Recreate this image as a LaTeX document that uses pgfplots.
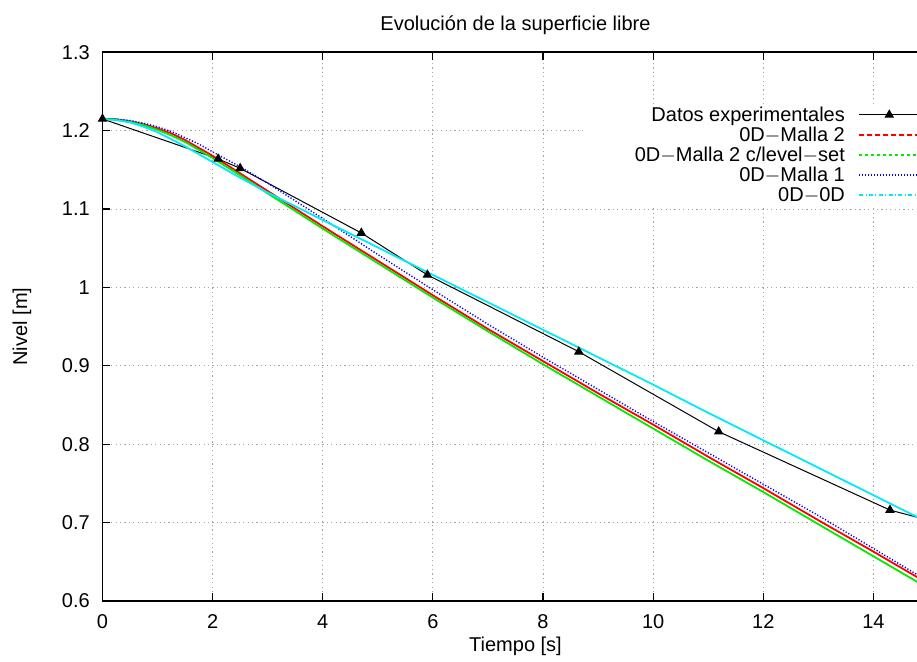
\documentclass[border=0pt]{standalone}
\usepackage{fontspec}
\setmainfont{Liberation Sans}
\usepackage{pgfplots}
\pgfplotsset{compat=1.18}
\usepackage{pgfplotstable}

\definecolor{gred}{RGB}{255,0,0}
\definecolor{ggreen}{RGB}{0,235,0}
\definecolor{gblue}{RGB}{0,0,255}
\definecolor{gcyan}{RGB}{0,235,245}

\pgfplotsset{
  legexp/.style={legend image code/.code={\draw[black, line width=0.5pt] (0pt,1.3pt) -- (30pt,1.3pt);
    \fill[black] (15pt,1.3pt) ++(90:2.3pt) -- ++(-120:3.98pt) -- ++(0:3.98pt) -- cycle;}},
  legred/.style={legend image code/.code={\draw[##1, draw=gred, solid, line width=0.8pt, dash pattern=on 2.5pt off 1.5pt] (0pt,1.3pt) -- (30pt,1.3pt);}},
  leggreen/.style={legend image code/.code={\draw[##1, draw=ggreen, solid, line width=0.8pt, dash pattern=on 1.5pt off 1.5pt] (0pt,1.3pt) -- (30pt,1.3pt);}},
  legblue/.style={legend image code/.code={\draw[##1, draw=gblue, line width=0.8pt, dash pattern=on 0.6pt off 0.9pt] (0pt,1.3pt) -- (30pt,1.3pt);}},
  legcyan/.style={legend image code/.code={\draw[##1, draw=gcyan, solid, line width=0.8pt, dash pattern=on 2pt off 1.2pt on 0.5pt off 1.2pt] (0pt,1.3pt) -- (30pt,1.3pt);}},
}

\pgfplotstableread{
x y
0 1.215
2.1 1.164
2.5 1.152
4.7 1.0695
5.9 1.016
8.65 0.918
11.19 0.816
14.3 0.716
15 0.703
}\exper

\pgfplotstableread{
x y
0 1.215
0.25 1.2145
0.5 1.212
0.75 1.208
1 1.203
1.25 1.1965
1.5 1.188
1.75 1.178
2 1.168
2.5 1.1455
3 1.123
4 1.078
5 1.034
6 0.990
7 0.947
8 0.906
9 0.865
10 0.825
11 0.784
12 0.744
13 0.703
14 0.663
15 0.622
}\mallados

\pgfplotstableread{
x y
0 1.215
0.25 1.2143
0.5 1.2115
0.75 1.207
1 1.201
1.25 1.194
1.5 1.1855
1.75 1.1755
2 1.165
2.5 1.143
3 1.120
4 1.075
5 1.031
6 0.987
7 0.944
8 0.902
9 0.861
10 0.820
11 0.779
12 0.739
13 0.698
14 0.657
15 0.616
}\levelset

\pgfplotstableread{
x y
0 1.215
0.25 1.2147
0.5 1.213
0.75 1.2095
1 1.205
1.25 1.199
1.5 1.191
1.75 1.183
2 1.173
2.5 1.154
3 1.133
4 1.088
5 1.042
6 0.997
7 0.953
8 0.911
9 0.870
10 0.829
11 0.789
12 0.749
13 0.709
14 0.667
15 0.625
}\mallauno

\pgfplotstableread{
x y
0 1.215
0.25 1.2135
0.5 1.2105
0.75 1.205
1 1.198
1.25 1.189
1.5 1.180
1.75 1.170
2 1.160
2.5 1.140
3 1.121
4 1.086
5 1.051
6 1.016
7 0.981
8 0.946
9 0.911
10 0.876
11 0.840
12 0.805
13 0.770
14 0.735
15 0.700
}\ceroD

\begin{document}
\begin{tikzpicture}
\begin{axis}[
  scale only axis,
  width=413pt, height=274.35pt,
  xmin=0, xmax=15, ymin=0.6, ymax=1.3,
  xtick={0,2,4,6,8,10,12,14},
  ytick={0.6,0.7,0.8,0.9,1,1.1,1.2,1.3},
  /pgf/number format/assume math mode=true,
  tick align=inside,
  major tick length=4pt,
  xtick pos=both, ytick pos=both,
  axis line style={line width=0.9pt},
  tick style={line width=0.6pt, black},
  grid=major,
  grid style={gray!70, line width=0.5pt, dash pattern=on 0.6pt off 1.6pt},
  xticklabel style={inner sep=0pt, anchor=north, yshift=-6.8pt},
  yticklabel style={inner sep=0pt, anchor=east, xshift=-6.2pt},
  title={Evolución de la superficie libre},
  every axis title/.style={at={(axis description cs:0.5,1)}, anchor=base, yshift=11pt, inner sep=0pt},
  xlabel={Tiempo [s]},
  every axis x label/.style={at={(axis description cs:0.5,0)}, anchor=north, yshift=-18pt, inner sep=0pt},
  ylabel={Nivel [m]},
  every axis y label/.style={at={(axis description cs:-0.0857,0.5)}, rotate=90, anchor=south, inner sep=0pt},
  legend plot pos=right,
  legend cell align=right,
  legend style={at={(rel axis cs:0.9898,0.8975)}, anchor=north east, draw=none, fill=none,
    inner sep=0pt, outer sep=0pt,
    row sep=1pt, column sep=6.8pt,
    nodes={inner sep=0pt, text height=6.5pt, text depth=2.5pt}},
]
\fill[white] (axis cs:8.745,1.103) rectangle (axis cs:15,1.233);

\addplot[black, line width=0.5pt, mark=triangle*, mark size=2.3pt, legexp]
  table[x=x,y=y] {\exper};
\addlegendentry{Datos experimentales}

\addplot[gred, line width=0.9pt, no markers, legred]
  table[x=x,y=y] {\mallados};
\addlegendentry{0D$-$Malla 2}

\addplot[ggreen, line width=0.9pt, no markers, leggreen]
  table[x=x,y=y] {\levelset};
\addlegendentry{0D$-$Malla 2 c/level$-$set}

\addplot[gblue, line width=0.7pt, no markers, dash pattern=on 0.6pt off 0.9pt, legblue]
  table[x=x,y=y] {\mallauno};
\addlegendentry{0D$-$Malla 1}

\addplot[gcyan, line width=0.9pt, no markers, legcyan]
  table[x=x,y=y] {\ceroD};
\addlegendentry{0D$-$0D}
\end{axis}
\pgfresetboundingbox
\useasboundingbox (-51.25pt,-30.5pt) rectangle (407.25pt,300.5pt);
\end{tikzpicture}
\end{document}
